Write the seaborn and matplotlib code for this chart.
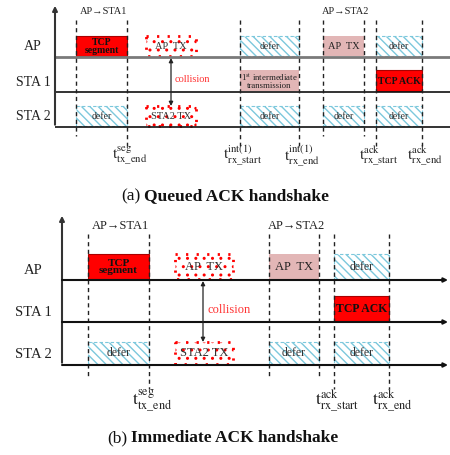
import matplotlib
matplotlib.use("Agg")
import matplotlib.pyplot as plt
import seaborn as sns

# rows of the timing diagram
rows = ["AP", "STA 1", "STA 2"]

# ---- (a) Queued ACK handshake (time measured along the axis) ----
a_start = [76, 146, 240, 323, 376, 240, 376, 76, 146, 240, 323, 376]
a_end = [127, 196, 299, 364, 422, 299, 422, 127, 196, 299, 364, 422]
a_row = [0, 0, 0, 0, 0, 1, 1, 2, 2, 2, 2, 2]
a_kind = ["seg", "coll", "defer", "tx", "defer", "tx", "seg", "defer", "coll", "defer", "defer", "defer"]
a_label = ["TCP\nsegment", "AP  TX", "defer", "AP  TX", "defer",
           "1$^{\\mathrm{st}}$ intermediate\ntransmission", "TCP ACK",
           "defer", "STA2 TX", "defer", "defer", "defer"]
a_marks = [76, 127, 240, 299, 323, 364, 376, 422]
a_mark_labels = [None, ("seg", "tx\\_end"), ("int(1)", "rx\\_start"), ("int(1)", "rx\\_end"),
                 None, None, ("ack", "rx\\_start"), ("ack", "rx\\_end")]
a_links = [(76, 127, "AP→STA1"), (323, 364, "AP→STA2")]
a_collision = 171

# ---- (b) Immediate ACK handshake ----
b_start = [88, 175, 269, 334, 334, 88, 175, 269, 334]
b_end = [149, 233, 319, 389, 389, 149, 233, 319, 389]
b_row = [0, 0, 0, 0, 1, 2, 2, 2, 2]
b_kind = ["seg", "coll", "tx", "defer", "seg", "defer", "coll", "defer", "defer"]
b_label = ["TCP\nsegment", "AP  TX", "AP  TX", "defer", "TCP ACK",
           "defer", "STA2 TX", "defer", "defer"]
b_marks = [88, 149, 269, 319, 334, 389]
b_mark_labels = [None, ("seg", "tx\\_end"), None, None, ("ack", "rx\\_start"), ("ack", "rx\\_end")]
b_links = [(88, 149, "AP→STA1"), (269, 319, "AP→STA2")]
b_collision = 203

RED = "#ff0000"
PINK = "#e2b6b6"
BLUE = "#7cc8dc"

sns.set_theme(style="white")
plt.rcParams["font.family"] = ["Liberation Serif", "DejaVu Serif"]
plt.rcParams["mathtext.fontset"] = "stix"
plt.rcParams["hatch.linewidth"] = 1.0

fig = plt.figure(figsize=(4.5, 4.55), dpi=100)
ax = fig.add_axes([0, 0, 1, 1])
ax.set_xlim(0, 450)
ax.set_ylim(455, 0)
ax.axis("off")


def draw_panel(ax, lay, start, end, row, kind, label, marks, mark_labels, links, coll_x):
    x0 = lay["axis_x"]
    base = lay["base"]
    h = lay["h"]
    fs = lay["fs"]
    # time axis with arrow
    ax.annotate("", xy=(x0, lay["top"]), xytext=(x0, base[2] + 0.5),
                arrowprops=dict(arrowstyle="-|>", color="#333333", lw=1.5, mutation_scale=7))
    for i, name in enumerate(rows):
        col = lay["base_colors"][i]
        if lay["right_arrow"]:
            ax.annotate("", xy=(448, base[i]), xytext=(x0, base[i]),
                        arrowprops=dict(arrowstyle="-|>", color=col, lw=lay["base_lw"][i],
                                        mutation_scale=6, shrinkA=0, shrinkB=0))
        else:
            ax.plot([x0, 450], [base[i], base[i]], color=col, lw=lay["base_lw"][i],
                    solid_capstyle="butt")
        ax.text(lay["name_x"], base[i] - lay["name_dy"], name, ha="center", va="center",
                fontsize=lay["name_fs"], color="#222222")

    # dashed boundaries
    for m, ml in zip(marks, mark_labels):
        y1 = lay["mark_bot_lab"] if ml else lay["mark_bot"]
        ax.plot([m, m], [lay["mark_top"], y1], color="#222222", lw=1.0, ls=(0, (3, 2.5)))
        if ml:
            txt = "$\\mathrm{t}^{\\mathrm{%s}}_{\\mathrm{%s}}$" % ml
            ax.text(m + 3, lay["lab_y"], txt, ha="center", va="center",
                    fontsize=lay["lab_fs"], color="#222222")

    for s, e, t in links:
        ax.text((s + e) / 2 + 2, lay["link_y"], t, ha="center", va="center",
                fontsize=fs["link"], color="#222222")

    # blocks
    for s, e, r, k, t in zip(start, end, row, kind, label):
        yc = base[r] - h[r] / 2 - 1
        if k == "seg":
            ax.barh(yc, e - s, left=s, height=h[r], color=RED, edgecolor="#aa0000", lw=0.8)
            ax.text((s + e) / 2, yc + 0.5, t, ha="center", va="center", fontweight="bold",
                    fontsize=fs["seg"] if "\n" in t else fs["ack"], linespacing=0.85,
                    color="#111111")
        elif k == "tx":
            ax.barh(yc, e - s, left=s, height=h[r], color=PINK, lw=0)
            ax.text((s + e) / 2, yc + 0.5, t, ha="center", va="center",
                    fontsize=fs["small"] if "\n" in t else fs["tx"], linespacing=0.9,
                    color="#222222")
        elif k == "defer":
            ax.barh(yc, e - s, left=s, height=h[r], color="white", edgecolor=BLUE,
                    hatch="\\\\\\\\", lw=0.8, ls=(0, (3, 2)))
            ax.text((s + e) / 2, yc + 0.5, t, ha="center", va="center",
                    fontsize=fs["tx"] - 0.5, color="#333333")
        else:
            ax.barh(yc, e - s, left=s, height=h[r], color="white", edgecolor=RED,
                    hatch="..", lw=2.0, ls=(0, (0.8, 3)))
            ax.text((s + e) / 2, yc + 0.5, t, ha="center", va="center",
                    fontsize=fs["tx"], color="#333333")

    # collision arrow between AP and STA 2
    ax.annotate("", xy=(coll_x, base[0] + 1), xytext=(coll_x, base[2] - h[2] - 1),
                arrowprops=dict(arrowstyle="<|-|>", color="#222222", lw=0.9,
                                mutation_scale=6, shrinkA=0, shrinkB=0))
    ax.text(coll_x + 4, base[1] - 12, "collision", ha="left", va="center",
            fontsize=fs["coll"], color="#ff3333")

    ax.text(lay["cap_split"], lay["cap_y"], lay["cap_a"], ha="right", va="center",
            fontsize=lay["cap_fs"], color="#111111")
    ax.text(lay["cap_split"] + 4, lay["cap_y"], lay["cap_b"], ha="left", va="center",
            fontsize=lay["cap_fs"], fontweight="bold", color="#111111")


lay_a = dict(axis_x=55, top=3, base=[57, 92, 127], h=[20, 21, 20],
             base_colors=["#7a7a7a", "#111111", "#111111"], base_lw=[2.0, 1.2, 1.2],
             right_arrow=False, name_x=33, name_dy=10, name_fs=10,
             mark_top=20, mark_bot=136, mark_bot_lab=146, lab_y=156, lab_fs=11,
             link_y=12, fs=dict(link=7.5, seg=7, ack=7, tx=7.5, small=6.3, coll=7.5),
             cap_split=140, cap_y=196, cap_fs=12.5, cap_a="(a)", cap_b="Queued ACK handshake")
lay_b = dict(axis_x=62, top=213, base=[280, 322, 365], h=[25, 25, 22],
             base_colors=["#111111", "#111111", "#111111"], base_lw=[1.5, 1.5, 1.5],
             right_arrow=True, name_x=33, name_dy=10, name_fs=10.5,
             mark_top=234, mark_bot=377, mark_bot_lab=389, lab_y=401, lab_fs=12.5,
             link_y=226, fs=dict(link=9, seg=8, ack=8.5, tx=9, small=7, coll=9),
             cap_split=127, cap_y=438, cap_fs=12.5, cap_a="(b)", cap_b="Immediate ACK handshake")

draw_panel(ax, lay_a, a_start, a_end, a_row, a_kind, a_label, a_marks, a_mark_labels,
           a_links, a_collision)
draw_panel(ax, lay_b, b_start, b_end, b_row, b_kind, b_label, b_marks, b_mark_labels,
           b_links, b_collision)

fig.savefig("out.png", dpi=100)
